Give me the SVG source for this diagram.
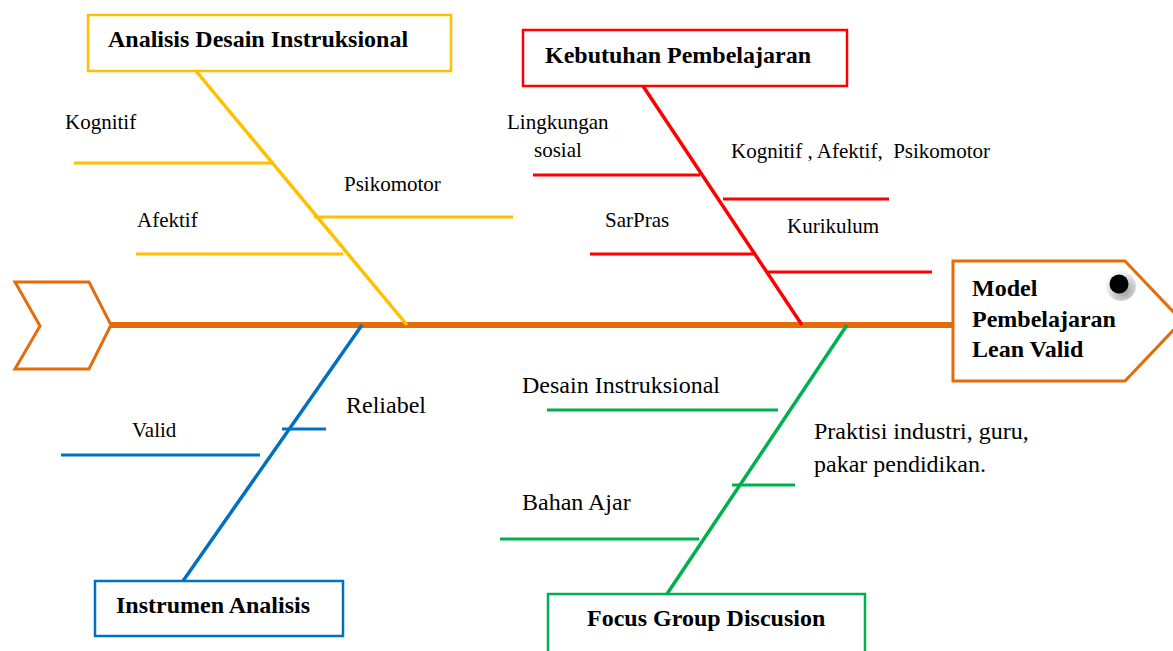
<svg xmlns="http://www.w3.org/2000/svg" width="1173" height="651" viewBox="0 0 1173 651">
<defs>
<style>
.t{font-family:"Liberation Serif","Times New Roman",serif;fill:#000}
.s{font-size:21px}
.m{font-size:24px}
.b{font-size:24px;font-weight:bold}
.or{stroke:#E46C0A;fill:none}
.y{stroke:#FFC000;fill:none}
.r{stroke:#FF0000;fill:none}
.bl{stroke:#0070C0;fill:none}
.g{stroke:#00B050;fill:none}
</style>
<radialGradient id="hole" cx="0.6" cy="0.65" r="0.6">
<stop offset="0" stop-color="#9a9a9a"/>
<stop offset="0.6" stop-color="#cfcfcf"/>
<stop offset="1" stop-color="#f2f2f2"/>
</radialGradient>
</defs>
<rect width="1173" height="651" fill="#fff"/>

<g id="connectors">
<line class="or" x1="111" y1="325" x2="953" y2="325" stroke-width="6"/>
<line class="y" x1="196" y1="71" x2="407" y2="325" stroke-width="3.5"/>
<line class="y" x1="74" y1="163" x2="273" y2="163" stroke-width="3"/>
<line class="y" x1="314" y1="217" x2="513" y2="217" stroke-width="3"/>
<line class="y" x1="136" y1="254" x2="343" y2="254" stroke-width="3"/>
<line class="r" x1="643" y1="86" x2="802" y2="325" stroke-width="3.5"/>
<line class="r" x1="533" y1="175" x2="700" y2="175" stroke-width="3"/>
<line class="r" x1="723" y1="199" x2="889" y2="199" stroke-width="3"/>
<line class="r" x1="590" y1="254" x2="755" y2="254" stroke-width="3"/>
<line class="r" x1="768" y1="272" x2="932" y2="272" stroke-width="3"/>
<line class="bl" x1="362" y1="325" x2="183" y2="581" stroke-width="3.5"/>
<line class="bl" x1="282" y1="429" x2="326" y2="429" stroke-width="3"/>
<line class="bl" x1="61" y1="455" x2="260" y2="455" stroke-width="3"/>
<line class="g" x1="847" y1="325" x2="667" y2="594" stroke-width="3.5"/>
<line class="g" x1="547" y1="410" x2="778" y2="410" stroke-width="3"/>
<line class="g" x1="732" y1="485" x2="795" y2="485" stroke-width="3"/>
<line class="g" x1="500" y1="539" x2="699" y2="539" stroke-width="3"/>
</g>

<g id="head">
<polygon class="or" stroke-width="3" points="15,282 89,282 111,325 89,369 15,369 40,326"/>
</g>

<g id="effect">
<polygon class="or" stroke-width="3" style="fill:#fff" points="953,261 1125,261 1182,321 1125,381 953,381"/>
<circle cx="1121" cy="286" r="15" fill="url(#hole)"/>
<circle cx="1119" cy="284" r="9.5" fill="#000"/>
<text class="t b" x="972" y="296">Model</text>
<text class="t b" x="972" y="327">Pembelajaran</text>
<text class="t b" x="972" y="357">Lean Valid</text>
</g>

<g id="cat-analisis">
<rect class="y" x="88" y="15" width="363" height="56" stroke-width="2.5" style="fill:#fff"/>
<text class="t b" x="108" y="47">Analisis Desain Instruksional</text>
</g>
<g id="cat-kebutuhan">
<rect class="r" x="523" y="30" width="324" height="56" stroke-width="2.5" style="fill:#fff"/>
<text class="t b" x="545" y="63">Kebutuhan Pembelajaran</text>
</g>
<g id="cat-instrumen">
<rect class="bl" x="95" y="581" width="248" height="55" stroke-width="2.5" style="fill:#fff"/>
<text class="t b" x="116" y="613">Instrumen Analisis</text>
</g>
<g id="cat-fgd">
<rect class="g" x="548" y="594" width="317" height="70" stroke-width="2.5" style="fill:#fff"/>
<text class="t b" x="587" y="626">Focus Group Discusion</text>
</g>

<g id="c-kognitif"><text class="t s" x="65" y="129">Kognitif</text></g>
<g id="c-psikomotor"><text class="t s" x="344" y="191">Psikomotor</text></g>
<g id="c-afektif"><text class="t s" x="137" y="227">Afektif</text></g>
<g id="c-lingkungan"><text class="t s" x="507" y="129">Lingkungan</text><text class="t s" x="534" y="157">sosial</text></g>
<g id="c-kap"><text class="t s" x="731" y="158" xml:space="preserve">Kognitif , Afektif,  Psikomotor</text></g>
<g id="c-sarpras"><text class="t s" x="605" y="227">SarPras</text></g>
<g id="c-kurikulum"><text class="t s" x="787" y="233">Kurikulum</text></g>
<g id="c-reliabel"><text class="t m" x="346" y="413">Reliabel</text></g>
<g id="c-valid"><text class="t s" x="132" y="437">Valid</text></g>
<g id="c-desain"><text class="t m" x="522" y="393">Desain Instruksional</text></g>
<g id="c-praktisi"><text class="t m" x="814" y="439">Praktisi industri, guru,</text><text class="t m" x="814" y="472">pakar pendidikan.</text></g>
<g id="c-bahan"><text class="t m" x="522" y="510">Bahan Ajar</text></g>
</svg>
